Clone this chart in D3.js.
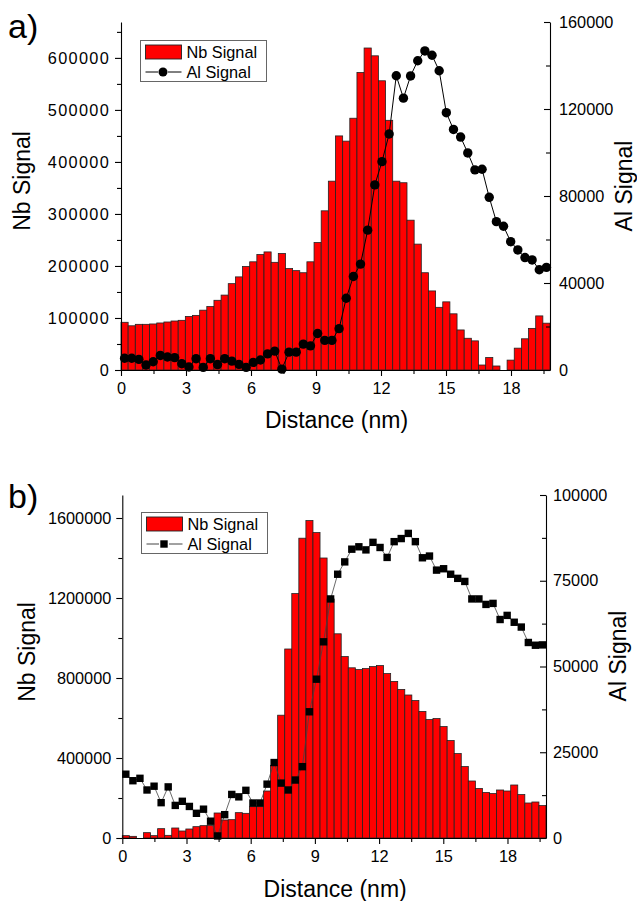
<!DOCTYPE html>
<html>
<head>
<meta charset="utf-8">
<script src="https://cdn.jsdelivr.net/npm/d3@7"></script>
<style>
  body { margin: 0; background: #fff; }
  svg { display: block; font-family: "Liberation Sans", Arial, sans-serif; }
</style>
</head>
<body>
<svg id="chart" width="637" height="901"></svg>
<script>
// Bin centres along the line profile (nm); each bin is 0.33 nm wide
const distance = [
  0.165, 0.495, 0.825, 1.155, 1.485, 1.815, 2.145, 2.475, 2.805, 3.135,
  3.465, 3.795, 4.125, 4.455, 4.785, 5.115, 5.445, 5.775, 6.105, 6.435,
  6.765, 7.095, 7.425, 7.755, 8.085, 8.415, 8.745, 9.075, 9.405, 9.735,
  10.065, 10.395, 10.725, 11.055, 11.385, 11.715, 12.045, 12.375, 12.705, 13.035,
  13.365, 13.695, 14.025, 14.355, 14.685, 15.015, 15.345, 15.675, 16.005, 16.335,
  16.665, 16.995, 17.325, 17.655, 17.985, 18.315, 18.645, 18.975, 19.305, 19.635
];
const binWidth = 0.33;

// Panel a)
const nbSignalA = [
  91700, 85000, 87800, 87800, 88500, 90400, 92300, 94200, 95500, 103000,
  105000, 115000, 122000, 134000, 144000, 166000, 179000, 199000, 208000, 222000,
  227000, 207000, 224000, 195000, 191000, 187000, 208000, 245000, 306000, 363000,
  450000, 440000, 484000, 572000, 619000, 604000, 556000, 480000, 363000, 360000,
  288000, 242000, 187000, 152000, 120500, 131000, 108000, 77000, 61000, 56000,
  9600, 24000, 7700, 0, 19000, 42000, 60000, 80000, 104000, 90000
];
const alSignalA = [
  5400, 5400, 4900, 2300, 3800, 6700, 6000, 5700, 2900, 1400,
  5200, 1200, 5200, 2500, 5200, 4100, 2600, 1200, 3500, 4600,
  7400, 8700, 400, 8200, 8200, 11900, 11100, 16800, 13600, 13600,
  19000, 33000, 43000, 48700, 64300, 85100, 95800, 108500, 135300, 125000,
  135200, 142200, 146700, 144700, 137600, 118300, 110600, 107100, 99800, 92000,
  92300, 79400, 68200, 66100, 59000, 55200, 51700, 50600, 46100, 47200
];

// Panel b)
const nbSignalB = [
  11700, 8300, 0, 26700, 11700, 46700, 13300, 50000, 35000, 45000,
  56700, 61700, 63300, 125000, 90000, 91700, 126700, 123300, 156700, 156700,
  235000, 363300, 614000, 945000, 1222000, 1499000, 1587000, 1527000, 1400000, 1195000,
  1021000, 907000, 851000, 842000, 847000, 857000, 862000, 822000, 783000, 743000,
  715000, 687000, 633000, 592000, 597000, 557000, 487000, 422000, 357000, 285000,
  248000, 228000, 222000, 240000, 235000, 265000, 217000, 175000, 180000, 162000
];
const alSignalB = [
  18600, 16700, 17400, 14000, 15100, 10300, 14900, 9500, 10700, 9200,
  7200, 8400, 4900, 600, 6800, 12700, 12000, 13900, 10200, 10200,
  15700, 22000, 16000, 14000, 16900, 20800, 36800, 46300, 57200, 69700,
  76900, 80500, 84200, 84900, 84000, 86200, 84700, 81800, 86400, 87300,
  88800, 86400, 81700, 82200, 78100, 78500, 76900, 75700, 74800, 69700,
  69700, 68100, 68400, 63700, 64900, 62900, 61500, 57000, 56200, 56300
];

// Tick values
const xTicks = [0, 3, 6, 9, 12, 15, 18];
const xMinorTicks = [1.5, 4.5, 7.5, 10.5, 13.5, 16.5, 19.5];
const nbTicksA = [0, 100000, 200000, 300000, 400000, 500000, 600000];
const nbMinorA = [50000, 150000, 250000, 350000, 450000, 550000, 650000];
const alTicksA = [0, 40000, 80000, 120000, 160000];
const alMinorA = [20000, 60000, 100000, 140000];
const nbTicksB = [0, 400000, 800000, 1200000, 1600000];
const nbMinorB = [200000, 600000, 1000000, 1400000];
const alTicksB = [0, 25000, 50000, 75000, 100000];
const alMinorB = [12500, 37500, 62500, 87500];

const svg = d3.select("#chart");
const fmt = d3.format("d");

function drawPanel(p) {
  const g = svg.append("g");
  const x = d3.scaleLinear().domain([0, 19.8]).range([p.left, p.right]);
  const yNb = d3.scaleLinear().domain([0, p.nbMax]).range([p.bottom, p.top]);
  const yAl = d3.scaleLinear().domain([0, p.alMax]).range([p.bottom, p.top]);

  // Nb bars
  g.append("g").selectAll("rect")
    .data(distance)
    .join("rect")
    .attr("x", d => x(d - binWidth / 2))
    .attr("width", d => x(d + binWidth / 2) - x(d - binWidth / 2))
    .attr("y", (d, i) => yNb(p.nb[i]))
    .attr("height", (d, i) => yNb(0) - yNb(p.nb[i]))
    .attr("fill", "#ff0000")
    .attr("stroke", "#222")
    .attr("stroke-width", 0.8);

  // Al line + markers
  const line = d3.line().x(d => x(d)).y((d, i) => yAl(p.al[i]));
  g.append("path")
    .datum(distance)
    .attr("d", line)
    .attr("fill", "none")
    .attr("stroke", p.lineColor)
    .attr("stroke-width", p.lineWidth);
  if (p.marker === "circle") {
    g.append("g").selectAll("circle")
      .data(distance)
      .join("circle")
      .attr("cx", d => x(d))
      .attr("cy", (d, i) => yAl(p.al[i]))
      .attr("r", 4.7)
      .attr("fill", "#000");
  } else {
    g.append("g").selectAll("rect")
      .data(distance)
      .join("rect")
      .attr("x", d => x(d) - 3.7)
      .attr("y", (d, i) => yAl(p.al[i]) - 3.7)
      .attr("width", 7.4)
      .attr("height", 7.4)
      .attr("fill", "#000");
  }

  // Axes
  const styleAxis = sel => {
    sel.selectAll("path.domain").attr("stroke", "#000").attr("stroke-width", 1.1);
    sel.selectAll(".tick line").attr("stroke", "#000").attr("stroke-width", 1.1);
    sel.selectAll("text").attr("fill", "#000").style("font-size", "16.3px");
  };

  g.append("g").attr("transform", `translate(0,${p.bottom})`)
    .call(d3.axisBottom(x).tickValues(xTicks).tickFormat(fmt).tickSize(6).tickSizeOuter(0).tickPadding(6.5))
    .call(styleAxis);
  g.append("g").attr("transform", `translate(0,${p.bottom})`)
    .call(d3.axisBottom(x).tickValues(xMinorTicks).tickFormat("").tickSize(4).tickSizeOuter(0))
    .call(s => s.select(".domain").remove())
    .call(styleAxis);

  const leftAxis = g.append("g").attr("transform", `translate(${p.left},0)`)
    .call(d3.axisLeft(yNb).tickValues(p.nbTicks).tickFormat(fmt).tickSize(6).tickSizeOuter(0).tickPadding(5))
    .call(styleAxis);
  leftAxis.selectAll("text").style("letter-spacing", p.leftSpacing);
  g.append("g").attr("transform", `translate(${p.left},0)`)
    .call(d3.axisLeft(yNb).tickValues(p.nbMinor).tickFormat("").tickSize(4).tickSizeOuter(0))
    .call(s => s.select(".domain").remove())
    .call(styleAxis);

  g.append("g").attr("transform", `translate(${p.right},0)`)
    .call(d3.axisRight(yAl).tickValues(p.alTicks).tickFormat(fmt).tickSize(-6).tickSizeOuter(0).tickPadding(p.rightPad))
    .call(styleAxis);
  g.append("g").attr("transform", `translate(${p.right},0)`)
    .call(d3.axisRight(yAl).tickValues(p.alMinor).tickFormat("").tickSize(-4).tickSizeOuter(0))
    .call(s => s.select(".domain").remove())
    .call(styleAxis);

  // Titles
  g.append("text").attr("x", p.left + (p.right - p.left) / 2 + 1).attr("y", p.xTitleY)
    .attr("text-anchor", "middle").style("font-size", "23px").text("Distance (nm)");
  g.append("text").attr("transform", `translate(${p.nbTitleX},${p.nbTitleY}) rotate(-90)`)
    .attr("text-anchor", "middle").style("font-size", "23px").text("Nb Signal");
  g.append("text").attr("transform", `translate(${p.alTitleX},${p.alTitleY}) rotate(-90)`)
    .attr("text-anchor", "middle").style("font-size", "23px").text("Al Signal");
  g.append("text").attr("x", 8).attr("y", p.labelY)
    .style("font-size", "34px").text(p.label);

  // Legend
  const L = p.legend;
  const lg = g.append("g");
  lg.append("rect").attr("x", L.x).attr("y", L.y).attr("width", 126).attr("height", 41)
    .attr("fill", "#fff").attr("stroke", "#666").attr("stroke-width", 1);
  lg.append("rect").attr("x", L.x + 5).attr("y", L.y + 4.5).attr("width", 36).attr("height", 14)
    .attr("fill", "#ff0000").attr("stroke", "#222").attr("stroke-width", 0.9);
  lg.append("text").attr("x", L.x + 46).attr("y", L.y + 17).style("font-size", "16.3px").text("Nb Signal");
  const ly = L.y + 31.5, cx = L.x + 22.5;
  lg.append("line").attr("x1", L.x + 5).attr("x2", cx - 5).attr("y1", ly).attr("y2", ly)
    .attr("stroke", p.lineColor).attr("stroke-width", 1);
  lg.append("line").attr("x1", cx + 5).attr("x2", L.x + 41).attr("y1", ly).attr("y2", ly)
    .attr("stroke", p.lineColor).attr("stroke-width", 1);
  if (p.marker === "circle") {
    lg.append("circle").attr("cx", cx).attr("cy", ly).attr("r", 4.5).attr("fill", "#000");
  } else {
    lg.append("rect").attr("x", cx - 3.7).attr("y", ly - 3.7).attr("width", 7.4).attr("height", 7.4).attr("fill", "#000");
  }
  lg.append("text").attr("x", L.x + 46).attr("y", L.y + 37.5).style("font-size", "16.3px").text("Al Signal");
}

drawPanel({
  left: 121, right: 550, top: 22, bottom: 370,
  nbMax: 669000, alMax: 160000,
  nb: nbSignalA, al: alSignalA,
  nbTicks: nbTicksA, nbMinor: nbMinorA, alTicks: alTicksA, alMinor: alMinorA,
  marker: "circle", lineColor: "#000", lineWidth: 1,
  leftSpacing: "1.3px", rightPad: 9,
  xTitleY: 428, nbTitleX: 30, nbTitleY: 181, alTitleX: 632, alTitleY: 186,
  label: "a)", labelY: 38,
  legend: { x: 140.5, y: 40.5 }
});

drawPanel({
  left: 122.3, right: 546, top: 495, bottom: 838,
  nbMax: 1715000, alMax: 100000,
  nb: nbSignalB, al: alSignalB,
  nbTicks: nbTicksB, nbMinor: nbMinorB, alTicks: alTicksB, alMinor: alMinorB,
  marker: "square", lineColor: "#444", lineWidth: 0.8,
  leftSpacing: "0px", rightPad: 7,
  xTitleY: 897, nbTitleX: 35, nbTitleY: 652, alTitleX: 626, alTitleY: 656,
  label: "b)", labelY: 508,
  legend: { x: 141.5, y: 512.5 }
});
</script>
</body>
</html>
